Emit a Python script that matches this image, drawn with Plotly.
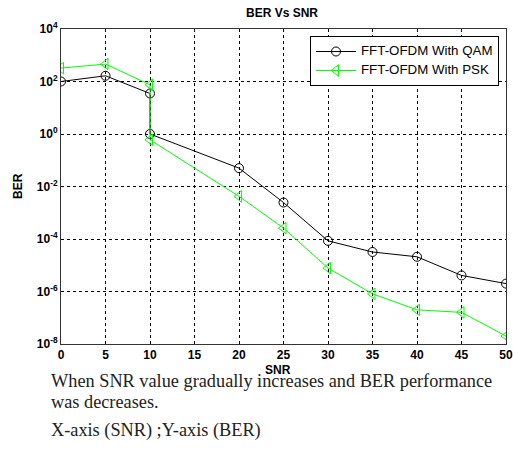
import plotly.graph_objects as go

snr = [0, 5, 10, 10, 20, 25, 30, 35, 40, 45, 50]
ber_qam = [100, 165, 35, 1.0, 0.05, 0.00245, 8.5e-5, 3.2e-5, 2.1e-5, 4.1e-6, 2.0e-6]
ber_psk = [325, 460, 75, 0.6, 0.0042, 2.6e-4, 7.8e-6, 8.1e-7, 2.0e-7, 1.6e-7, 2.0e-8]

x_ticks = [0, 5, 10, 15, 20, 25, 30, 35, 40, 45, 50]
y_exps = [4, 2, 0, -2, -4, -6, -8]

series_names = ["FFT-OFDM With QAM", "FFT-OFDM With PSK"]

paragraph = [
    "When SNR value gradually increases and BER performance",
    "was decreases.",
    "X-axis (SNR) ;Y-axis (BER)",
]

W, H = 513, 452
L, T, R, B = 61, 29, 7, 108
PW, PH = W - L - R, H - T - B


def px_x(px):
    return (px - L) / PW


def px_y(py):
    return (T + PH - py) / PH


def legend_name(s):
    return f'<span style="font-size:13.3px">{s}</span>'


fig = go.Figure()
fig.add_trace(go.Scatter(
    x=snr, y=ber_qam, mode="lines+markers", name=legend_name(series_names[0]),
    line=dict(color="#000000", width=1),
    marker=dict(symbol="circle-open", size=9, color="#000000", line=dict(width=1)),
))
fig.add_trace(go.Scatter(
    x=snr, y=ber_psk, mode="lines+markers", name=legend_name(series_names[1]),
    line=dict(color="#00ff00", width=1),
    marker=dict(symbol="triangle-left-open", size=10, color="#00ff00", line=dict(width=1)),
))

fig.update_layout(
    width=W, height=H,
    margin=dict(l=L, r=R, t=T, b=B, autoexpand=False),
    paper_bgcolor="white", plot_bgcolor="white",
    font=dict(family="Liberation Sans, Arial", color="black"),
    showlegend=True,
    legend=dict(
        x=px_x(499), y=px_y(36), xanchor="right", yanchor="top",
        bgcolor="white", bordercolor="black", borderwidth=1,
        font=dict(size=10, family="Liberation Sans, Arial"),
        tracegroupgap=0, itemwidth=40,
    ),
)
fig.update_xaxes(
    range=[0, 50], tickvals=x_ticks, automargin=False,
    ticktext=[f"<b>{v}</b>" for v in x_ticks],
    tickfont=dict(size=12), showline=True, linecolor="#333333", mirror=True,
    showgrid=True, gridcolor="black", griddash="3px,3px", gridwidth=1,
    zeroline=False, ticks="", ticklen=0,
)
fig.update_yaxes(
    type="log", range=[-8, 4], tickvals=[10.0 ** e for e in y_exps], automargin=False,
    ticktext=[f"<b>10<sup>{e}</sup></b>" for e in y_exps],
    tickfont=dict(size=12), showline=True, linecolor="#333333", mirror=True,
    showgrid=True, gridcolor="black", griddash="3px,3px", gridwidth=1,
    zeroline=False, ticks="", ticklen=0,
)

annos = [
    dict(text="<b>BER Vs SNR</b>", x=px_x(282), y=px_y(13), xanchor="center", yanchor="middle",
         font=dict(size=12)),
    dict(text="<b>SNR</b>", x=px_x(278), y=px_y(370), xanchor="center", yanchor="middle",
         font=dict(size=12)),
    dict(text="<b>BER</b>", x=px_x(18), y=px_y(186), xanchor="center", yanchor="middle",
         textangle=-90, font=dict(size=12)),
]
serif = dict(family="Liberation Serif, Times New Roman", size=18.3, color="#222222")
for txt, wy in zip(paragraph, [381, 402, 431]):
    annos.append(dict(text=txt, x=px_x(49), y=px_y(wy), xanchor="left", yanchor="middle",
                      font=serif))
for a in annos:
    a.update(xref="paper", yref="paper", showarrow=False)
fig.update_layout(annotations=annos)

fig.write_html(
    "out.html",
    config={"displayModeBar": False},
    post_script="document.body.style.margin='0px';document.body.style.overflow='hidden';",
)
